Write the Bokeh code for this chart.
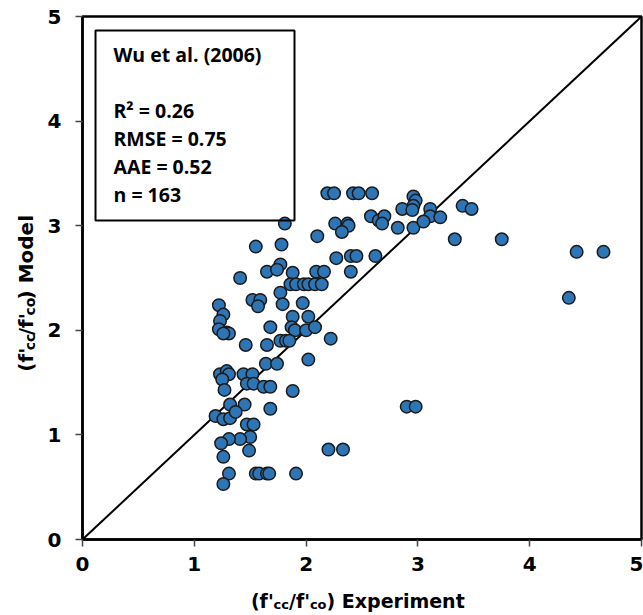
from bokeh.plotting import figure
from bokeh.models import Range1d, Label, BoxAnnotation, FixedTicker
from bokeh.layouts import column, row
from bokeh.embed import file_html
from bokeh.resources import INLINE

# ---------------- data ----------------
x_exp = [
    2.19, 2.25, 2.42, 2.47, 2.59,
    2.58, 2.65,
    2.26, 2.37, 2.38, 2.32,
    2.10, 1.81,
    1.55, 1.78,
    2.27, 2.40, 2.45, 2.62,
    1.77, 1.65, 1.74, 1.88,
    1.41,
    2.09, 2.16, 2.40,
    1.86, 1.91, 1.98, 2.02, 2.08, 2.14,
    1.77,
    1.52, 1.59, 1.57,
    1.22, 1.26,
    1.79, 1.97,
    1.88, 2.02,
    1.23, 1.22, 1.29, 1.31, 1.26,
    1.68,
    1.87, 1.90, 2.00, 2.08,
    1.46, 1.65, 1.77, 1.82, 1.85,
    2.22,
    1.64, 1.74, 2.02,
    2.96, 2.98, 2.96, 2.86, 2.95,
    3.11, 3.11,
    3.40, 3.48,
    2.70, 2.68,
    2.82, 2.96, 3.05, 3.20,
    3.33, 3.75,
    4.42, 4.66,
    4.35,
    2.90, 2.98,
    1.23, 1.29, 1.31, 1.25, 1.27,
    1.44, 1.52, 1.47, 1.53, 1.62, 1.68,
    1.88,
    1.32, 1.45,
    1.68,
    1.19, 1.26, 1.32, 1.37,
    1.47, 1.53,
    1.50, 1.41, 1.31, 1.24,
    1.49, 1.26,
    2.20, 2.33,
    1.31, 1.55, 1.58, 1.65, 1.67, 1.91,
    1.26,
]
y_model = [
    3.31, 3.31, 3.31, 3.31, 3.31,
    3.09, 3.05,
    3.02, 3.02, 3.00, 2.94,
    2.90, 3.02,
    2.80, 2.82,
    2.69, 2.71, 2.71, 2.71,
    2.63, 2.56, 2.58, 2.55,
    2.50,
    2.56, 2.56, 2.56,
    2.44, 2.44, 2.44, 2.44, 2.44, 2.44,
    2.36,
    2.29, 2.29, 2.23,
    2.24, 2.15,
    2.25, 2.26,
    2.13, 2.13,
    2.09, 2.01, 1.98, 1.97, 1.97,
    2.03,
    2.03, 2.00, 2.00, 2.03,
    1.86, 1.86, 1.90, 1.90, 1.90,
    1.92,
    1.68, 1.68, 1.72,
    3.28, 3.24, 3.19, 3.16, 3.15,
    3.16, 3.09,
    3.19, 3.16,
    3.09, 3.02,
    2.98, 2.98, 3.04, 3.08,
    2.87, 2.87,
    2.75, 2.75,
    2.31,
    1.27, 1.27,
    1.58, 1.61, 1.58, 1.53, 1.43,
    1.58, 1.58, 1.49, 1.49, 1.46, 1.46,
    1.42,
    1.29, 1.29,
    1.25,
    1.18, 1.15, 1.16, 1.22,
    1.10, 1.10,
    0.98, 0.96, 0.96, 0.92,
    0.85, 0.79,
    0.86, 0.86,
    0.63, 0.63, 0.63, 0.63, 0.63, 0.63,
    0.53,
]
line_x = [0, 5]
line_y = [0, 5]
ticks = [0, 1, 2, 3, 4, 5]
box_title = "Wu et al. (2006)"
box_lines = ["R\u00b2 = 0.26", "RMSE = 0.75", "AAE = 0.52", "n = 163"]

# ---------------- layout geometry ----------------
TOTAL_W, TOTAL_H = 643, 615
LEFT_STRIP = 40          # holds the y title
BOTTOM_STRIP = 33        # holds the x title
MW = TOTAL_W - LEFT_STRIP
MH = TOTAL_H - BOTTOM_STRIP
BL, BR, BT = 42, 2, 16
BB = MH - BT - 523
SHIFT = 8                # empirical baseline correction for Label

p = figure(width=MW, height=MH, output_backend="svg", toolbar_location=None,
           x_range=Range1d(0, 5), y_range=Range1d(0, 5),
           min_border_left=BL, min_border_right=BR,
           min_border_top=BT, min_border_bottom=BB)
p.background_fill_color = "white"
p.border_fill_color = "white"
p.grid.visible = False
p.outline_line_color = "black"
p.outline_line_width = 2.5

for ax in (p.xaxis[0], p.yaxis[0]):
    ax.ticker = FixedTicker(ticks=ticks)
    ax.minor_tick_line_color = None
    ax.major_tick_in = 0
    ax.major_tick_out = 7
    ax.major_tick_line_width = 1.5
    ax.major_tick_line_color = "#444444"
    ax.axis_line_width = 2.5
    ax.axis_line_color = "black"
    ax.major_label_text_font = "DejaVu Sans"
    ax.major_label_text_font_style = "bold"
    ax.major_label_text_font_size = "20px"
    ax.major_label_text_color = "black"
p.yaxis[0].major_label_standoff = 14
p.xaxis[0].major_label_standoff = 10

# 1:1 line
p.line(line_x, line_y, line_color="black", line_width=2)

# points
p.scatter(x_exp, y_model, marker="circle", size=12.5,
          fill_color="#2E75B6", line_color="#1a1a1a", line_width=1.5)

# ---------------- text box ----------------
FW = MW - BL - BR
FH = 523
def dx(px):   # px: page x
    return (px - LEFT_STRIP - BL) / FW * 5.0
def dy(py):   # py: page y
    return (BT + FH - py) / FH * 5.0

p.add_layout(BoxAnnotation(left=dx(95), right=dx(294), top=dy(30), bottom=dy(220),
                           fill_alpha=0, line_color="black", line_alpha=1.0,
                           line_width=2))
BOX_FS = "19.5px"
p.add_layout(Label(x=dx(113), y=dy(62 - SHIFT), text=box_title, text_font="Open Sans",
                   text_font_style="bold", text_font_size=BOX_FS,
                   text_baseline="alphabetic", text_color="black"))
for i, t in enumerate(box_lines):
    p.add_layout(Label(x=dx(113), y=dy(118 + 28 * i - SHIFT), text=t,
                       text_font="Open Sans",
                       text_font_style="bold", text_font_size=BOX_FS,
                       text_baseline="alphabetic", text_color="black"))

# ---------------- axis titles with subscripts ----------------
adv = {"(": 0.458, ")": 0.458, "'": 0.30, "/": 0.365, " ": 0.348, "f": 0.435,
       "c": 0.592, "o": 0.687, "E": 0.683, "x": 0.663, "p": 0.716, "e": 0.678,
       "r": 0.493, "i": 0.343, "m": 1.042, "n": 0.712, "t": 0.478, "M": 0.974,
       "d": 0.716, "l": 0.343}

def seg_w(s, fs):
    return sum(adv.get(ch, 0.6) for ch in s) * fs

def segments(tail, main, sub):
    return [("(f'", main, False), ("cc", sub, True), ("/f'", main, False),
            ("co", sub, True), (tail, main, False)]

def strip(w, h):
    f = figure(width=w, height=h, output_backend="svg", toolbar_location=None,
               x_range=Range1d(0, w), y_range=Range1d(h, 0),
               x_axis_type=None, y_axis_type=None,
               min_border=0, min_border_left=0, min_border_right=0,
               min_border_top=0, min_border_bottom=0)
    f.outline_line_color = None
    f.grid.visible = False
    f.background_fill_color = "white"
    f.border_fill_color = "white"
    return f

# x title strip (page y from MH to TOTAL_H)
xs = strip(TOTAL_W, BOTTOM_STRIP)
segs = segments(") Experiment", 19, 13)
total = sum(seg_w(s, fs) for s, fs, _ in segs)
px = 357.5 - total / 2
for s, fs, sub in segs:
    base = (612 if sub else 608) - MH - SHIFT
    xs.add_layout(Label(x=px, y=base, text=s, text_font="DejaVu Sans",
                        text_font_style="bold", text_font_size=f"{fs}px",
                        text_baseline="alphabetic", text_align="left",
                        text_color="black"))
    px += seg_w(s, fs)

# y title strip (rotated)
ys = strip(LEFT_STRIP, MH)
segs = segments(") Model", 20, 14)
total = sum(seg_w(s, fs) for s, fs, _ in segs)
py = 297 + 16 + total / 2
for s, fs, sub in segs:
    base = (37 if sub else 33) - SHIFT
    ys.add_layout(Label(x=base, y=py, text=s, text_font="DejaVu Sans",
                        text_font_style="bold", text_font_size=f"{fs}px",
                        text_baseline="alphabetic", text_align="left",
                        angle=90, angle_units="deg", text_color="black"))
    py -= seg_w(s, fs)

layout = column(row(ys, p, spacing=0), xs, spacing=0)
open("out.html", "w").write(file_html(layout, INLINE))
